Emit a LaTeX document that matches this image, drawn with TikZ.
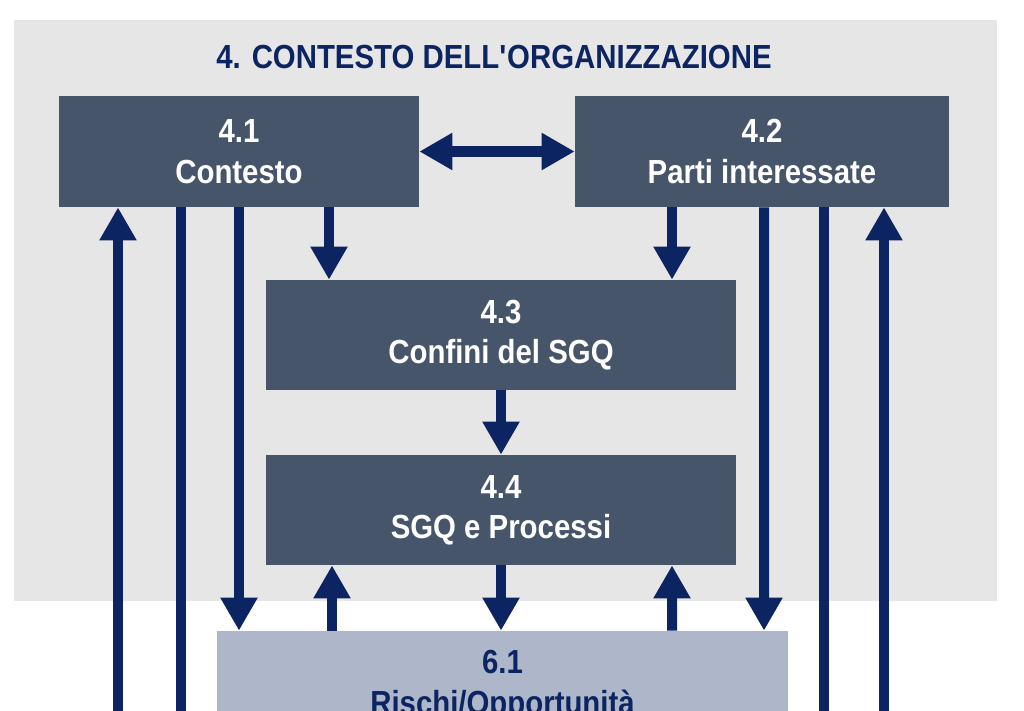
\documentclass[tikz,border=0pt]{standalone}
\usepackage{fontspec}
\setmainfont[FakeStretch=0.88]{Liberation Sans}
\usepackage{xcolor}
\usetikzlibrary{arrows.meta,positioning,calc}

\definecolor{bggrey}{HTML}{E6E6E6}
\definecolor{boxdark}{HTML}{47556B}
\definecolor{boxlight}{HTML}{ADB7C9}
\definecolor{navy}{HTML}{0C2461}

\begin{document}
\begin{tikzpicture}[
    x=0.02cm, y=-0.02cm,
    every node/.style={font=\fontsize{19}{23}\selectfont\bfseries},
    box/.style={rectangle, fill=boxdark, text=white, align=center, inner sep=0pt, minimum height=2.2cm},
    riskbox/.style={rectangle, fill=boxlight, text=navy, align=center, inner sep=0pt, minimum height=2.2cm},
    arr/.style={-{Triangle[width=0.7cm,length=0.66cm]}, navy, line width=0.2cm},
    dblarr/.style={{Triangle[width=0.7cm,length=0.66cm]}-{Triangle[width=0.7cm,length=0.66cm]}, navy, line width=0.22cm},
    bar/.style={navy, line width=0.2cm}
]
  \useasboundingbox (0,0) rectangle (1024,710);
  \clip (0,0) rectangle (1024,710);

  % grey area of clause 4
  \fill[bggrey] (14,20) rectangle (997,601);
  \node[text=navy] (title) at (494,57) {4. CONTESTO DELL\textquotesingle ORGANIZZAZIONE};

  \node[box, minimum width=7.2cm, minimum height=2.22cm]  (n41) at (239,151.5) {4.1\\Contesto};
  \node[box, minimum width=7.48cm, minimum height=2.22cm] (n42) at (762,151.5) {4.2\\Parti interessate};
  \node[box, minimum width=9.4cm] (n43) at (501,335) {4.3\\Confini del SGQ};
  \node[box, minimum width=9.4cm] (n44) at (501,510) {4.4\\SGQ e Processi};
  \node[riskbox, minimum width=11.42cm] (n61) at (502.5,686) {6.1\\Rischi/Opportunità};

  % free ends below the picture
  \coordinate (foot1) at (118,715);
  \coordinate (foot2) at (181,715);
  \coordinate (foot3) at (824,715);
  \coordinate (foot4) at (884,715);

  \draw[dblarr] (n41.east) -- (n42.west);

  \draw[arr] (foot1) -- (foot1 |- n41.south);
  \draw[bar] (foot2 |- n41.south) -- (foot2);
  \draw[arr] (n41.south) -- (n41.south |- n61.north);
  \draw[arr] ($(n41.south)+(90,0)$) -- ($(n43.north)+(-172,0)$);

  \draw[arr] ($(n42.south)+(-90,0)$) -- ($(n43.north)+(171,0)$);
  \draw[arr] ($(n42.south)+(2,0)$) -- ($(n61.north)+(261.5,0)$);
  \draw[bar] (foot3 |- n42.south) -- (foot3);
  \draw[arr] (foot4) -- (foot4 |- n42.south);

  \draw[arr] (n43.south) -- (n44.north);

  \draw[arr] ($(n61.north)+(-170.5,0)$) -- ($(n44.south)+(-169,0)$);
  \draw[arr] (n44.south) -- (n44.south |- n61.north);
  \draw[arr] ($(n61.north)+(169.5,0)$) -- ($(n44.south)+(171,0)$);
\end{tikzpicture}
\end{document}
